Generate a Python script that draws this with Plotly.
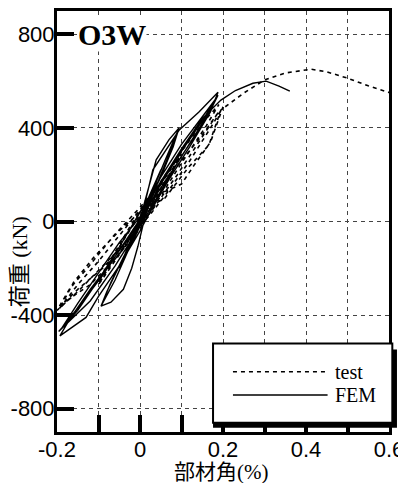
import plotly.graph_objects as go

# ---- data ----
test_x = [0.0, 0.025, 0.05, 0.035, 0.01, -0.01, -0.03, -0.05, -0.035, -0.01, 0.0,
          0.03, 0.06, 0.1, 0.08, 0.05, 0.02, 0.0, -0.04, -0.08, -0.1, -0.08, -0.05, -0.02, 0.0,
          0.04, 0.07, 0.1, 0.08, 0.05, 0.02, -0.01, -0.05, -0.08, -0.1, -0.07, -0.04, 0.0,
          0.05, 0.1, 0.13, 0.17, 0.2, 0.17, 0.12, 0.06, 0.02, -0.04, -0.1, -0.15, -0.2,
          -0.17, -0.123, -0.065, 0.0, 0.05, 0.1, 0.15, 0.19, 0.16, 0.1, 0.04, 0.0, -0.06,
          -0.12, -0.17, -0.195, -0.15, -0.1, -0.05, 0.0, 0.05, 0.1, 0.15, 0.19, 0.15,
          0.09, 0.03, -0.03, -0.09, -0.15, -0.19, -0.16, -0.11, -0.05, 0.0, 0.06,
          0.118, 0.166, 0.195,
          0.25, 0.3, 0.35, 0.412, 0.45, 0.5, 0.55, 0.605]
test_y = [0, 80, 160, 100, 20, -30, -90, -140, -90, -20, 10,
          80, 170, 290, 220, 120, 30, -20, -110, -210, -260, -190, -100, -10, 40,
          140, 210, 300, 230, 140, 40, -40, -140, -220, -270, -180, -80, 30,
          120, 160, 240, 340, 490, 400, 260, 110, 20, -100, -210, -300, -380,
          -289, -191, -64, 60, 170, 300, 420, 500, 410, 250, 80, -30, -160,
          -270, -330, -374, -270, -170, -60, 50, 150, 260, 370, 470, 360,
          200, 50, -80, -200, -290, -360, -260, -150, -40, 40, 100,
          234, 327, 477,
          549, 605, 635, 651, 640, 613, 580, 549]

fem_x = [0.0, 0.025, 0.05, 0.03, 0.0, -0.025, -0.05, -0.03, 0.0,
         0.03, 0.06, 0.094, 0.08, 0.05, 0.02, 0.0, -0.03, -0.06, -0.094,
         -0.08, -0.05, -0.02, 0.0, 0.039, 0.07, 0.094, 0.08, 0.05, 0.02, -0.005,
         -0.02, -0.04, -0.07, -0.094, -0.07, -0.04, 0.0, 0.031, 0.094, 0.142, 0.188,
         0.17, 0.12, 0.07, 0.03, 0.0, -0.05, -0.1, -0.13, -0.193, -0.17, -0.12,
         -0.06, 0.0, 0.05, 0.1, 0.15, 0.188, 0.16, 0.1, 0.04, 0.0, -0.06, -0.12,
         -0.196, -0.15, -0.1, -0.05, 0.0, 0.05, 0.1, 0.15, 0.185, 0.15, 0.09,
         0.03, -0.03, -0.09, -0.15, -0.19, -0.15, -0.1, -0.05, 0.0, 0.05, 0.1,
         0.15, 0.195, 0.23, 0.272, 0.304, 0.335, 0.361]
fem_y = [0, 110, 220, 140, 20, -90, -200, -120, -10,
         130, 260, 400, 330, 200, 70, -20, -130, -250, -362,
         -300, -190, -80, 10, 264, 350, 400, 320, 190, 80, -106,
         -200, -290, -345, -362, -260, -150, -10, 221, 390, 468, 553,
         470, 320, 180, 60, -40, -190, -320, -410, -489, -420, -290,
         -150, 0, 160, 300, 430, 540, 440, 280, 100, -20, -190, -340,
         -470, -380, -250, -110, 40, 190, 330, 450, 530, 420, 250,
         90, -70, -230, -370, -460, -350, -220, -90, 20, 170, 310,
         440, 519, 560, 591, 600, 579, 557]

x_tickvals = [-0.2, 0.0, 0.2, 0.4, 0.6]
x_ticktext = ["-0.2", "0", "0.2", "0.4", "0.6"]
y_tickvals = [-800, -400, 0, 400, 800]
y_ticktext = ["-800", "-400", "0", "400", "800"]

series_names = ["test", "FEM"]
title_text = "O3W"
x_title = "部材角(%)"
y_title = "荷重 (kN)"

fig = go.Figure()
fig.add_trace(go.Scatter(x=test_x, y=test_y, mode="lines", name=series_names[0],
                         line=dict(color="black", width=1.6, dash="4px,4px"),
                         showlegend=False))
fig.add_trace(go.Scatter(x=fem_x, y=fem_y, mode="lines", name=series_names[1],
                         line=dict(color="black", width=1.4),
                         showlegend=False))

grid_color = "#444444"
tick_font = dict(family="Liberation Sans, Arial", size=22, color="black")
fig.update_xaxes(range=[-0.2, 0.6], tickmode="array", tickvals=x_tickvals,
                 ticktext=x_ticktext, ticks="inside", ticklen=17, tickwidth=4,
                 tickcolor="black", showline=True, linewidth=3, linecolor="black",
                 mirror=True, showgrid=True, gridcolor=grid_color, gridwidth=1,
                 griddash="4px,4px", zeroline=False, automargin=False,
                 ticklabelstandoff=-4, tickfont=tick_font,
                 minor=dict(tickmode="linear", tick0=0, dtick=0.1, ticks="inside",
                            ticklen=17, tickwidth=4, tickcolor="black",
                            showgrid=True, gridcolor=grid_color, gridwidth=1,
                            griddash="4px,4px"))
fig.update_yaxes(range=[-900, 900], tickmode="array", tickvals=y_tickvals,
                 ticktext=y_ticktext, ticks="inside", ticklen=17, tickwidth=4,
                 tickcolor="black", showline=True, linewidth=3, linecolor="black",
                 mirror=True, showgrid=True, gridcolor=grid_color, gridwidth=1,
                 griddash="4px,4px", zeroline=False, automargin=False,
                 ticklabelstandoff=-5, tickfont=tick_font)

shapes = [
    # legend shadow and box
    dict(type="rect", xref="paper", yref="paper", x0=0.470, x1=1.024, y0=0.010, y1=0.196,
         fillcolor="black", line=dict(width=0), layer="above"),
    dict(type="rect", xref="paper", yref="paper", x0=0.470, x1=1.010, y0=0.022, y1=0.210,
         fillcolor="white", line=dict(color="black", width=2), layer="above"),
    dict(type="line", xref="paper", yref="paper", x0=0.530, x1=0.815, y0=0.143, y1=0.143,
         line=dict(color="black", width=1.6, dash="4px,4px"), layer="above"),
    dict(type="line", xref="paper", yref="paper", x0=0.530, x1=0.815, y0=0.088, y1=0.088,
         line=dict(color="black", width=1.6), layer="above"),
]

title_font_family = "Liberation Serif, Noto Sans CJK JP"
annotations = [
    dict(text="<b>%s</b>" % title_text, xref="paper", yref="paper", x=0.06, y=0.945,
         xanchor="left", yanchor="middle", showarrow=False, bgcolor="white",
         font=dict(family="Liberation Serif, Times New Roman", size=30, color="black"),
         borderpad=0),
    dict(text=series_names[0], xref="paper", yref="paper", x=0.83, y=0.143,
         xanchor="left", yanchor="middle", showarrow=False,
         font=dict(family="Liberation Serif, Times New Roman", size=20, color="black")),
    dict(text=series_names[1], xref="paper", yref="paper", x=0.83, y=0.088,
         xanchor="left", yanchor="middle", showarrow=False,
         font=dict(family="Liberation Serif, Times New Roman", size=20, color="black")),
    dict(text=x_title, xref="paper", yref="paper", x=0.495, y=-0.094,
         xanchor="center", yanchor="middle", showarrow=False,
         font=dict(family=title_font_family, size=21, color="black")),
    dict(text=y_title, xref="paper", yref="paper", x=-0.112, y=0.405,
         xanchor="center", yanchor="middle", showarrow=False, textangle=-90,
         font=dict(family=title_font_family, size=22, color="black")),
]

# page body has an 8px margin, so the figure is sized to fit the 406x483 window
fig.update_layout(width=398, height=475, margin=dict(l=49, r=17, t=3, b=51),
                  template="none",
                  plot_bgcolor="white", paper_bgcolor="white",
                  shapes=shapes, annotations=annotations, showlegend=False)

fig.write_html("out.html")
